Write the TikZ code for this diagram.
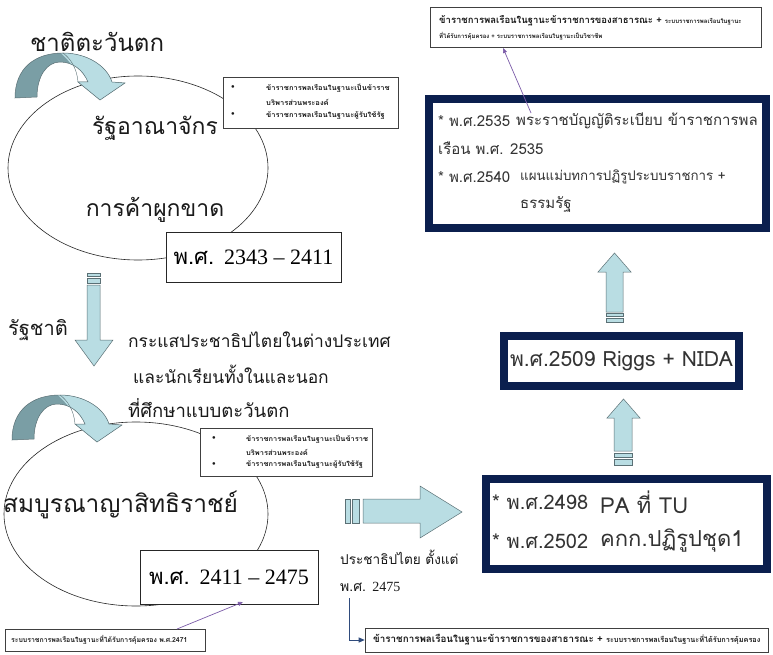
\documentclass[tikz,border=0pt]{standalone}
\usepackage{fontspec}
\setmainfont[Script=Thai]{Loma}
\newfontfamily\lat{Liberation Serif}
\newfontfamily\widethai[Script=Thai,FakeStretch=1.08]{Loma}
\usetikzlibrary{arrows.meta,shapes.geometric}
\definecolor{navy}{HTML}{0B1F4E}
\definecolor{abl}{HTML}{B9DDE3}
\definecolor{adk}{HTML}{7A9EA5}
\definecolor{aline}{HTML}{5B7075}
\definecolor{purp}{HTML}{7B5BA8}
\definecolor{ebl}{HTML}{2F4B7C}
\definecolor{txt}{HTML}{1A1A1A}
\definecolor{gtxt}{HTML}{333333}
\newcommand{\fs}[1]{\fontsize{#1}{#1}\selectfont}
\tikzset{
  lbl/.style={inner sep=0pt, anchor=west, text=txt},
  clbl/.style={inner sep=0pt, anchor=center, text=txt},
  nlbl/.style={inner sep=0pt, anchor=west, text=gtxt},
  oval/.style={draw=black!85, line width=0.6pt, ellipse, inner sep=0pt},
  plainbox/.style={draw=black!85, line width=0.8pt, fill=white, inner sep=0pt},
  tinybox/.style={draw=black!75, line width=0.6pt, fill=white, inner sep=0pt},
  navybox/.style={draw=navy, line width=8pt, fill=white, inner sep=0pt},
  blockarr/.style={fill=abl, draw=aline, line width=0.5pt},
  purparrow/.style={draw=purp, line width=0.7pt, -{Triangle[length=5pt,width=4pt]}},
  elbowarrow/.style={draw=ebl, line width=0.9pt, -{Triangle[length=6pt,width=5pt]}},
  curvarrow/.pic={
    \fill[adk] (0,0) .. controls (0,-30) and (20,-45) .. (48,-45)
       .. controls (72,-45) and (92,-32) .. (97,-16) -- (110,-15) -- (85,2) -- (63,-16) -- (73,-16)
       .. controls (68,-28) and (58,-36) .. (45,-36) .. controls (32,-36) and (22,-22) .. (22,-1) -- cycle;
    \begin{scope}
      \clip (0,0) .. controls (0,-30) and (20,-45) .. (48,-45)
       .. controls (72,-45) and (92,-32) .. (97,-16) -- (110,-15) -- (85,2) -- (63,-16) -- (73,-16)
       .. controls (68,-28) and (58,-36) .. (45,-36) .. controls (32,-36) and (22,-22) .. (22,-1) -- cycle;
      \fill[abl] (40,-50) -- (48,-45) .. controls (72,-45) and (92,-32) .. (97,-16) -- (110,-15) -- (85,2) -- (63,-16)
        .. controls (62,-30) and (52,-40) .. (40,-50) -- cycle;
    \end{scope}
    \draw[aline, line width=0.5pt] (0,0) .. controls (0,-30) and (20,-45) .. (48,-45)
       .. controls (72,-45) and (92,-32) .. (97,-16) -- (110,-15) -- (85,2) -- (63,-16) -- (73,-16)
       .. controls (68,-28) and (58,-36) .. (45,-36) .. controls (32,-36) and (22,-22) .. (22,-1) -- cycle;
    \draw[aline, line width=0.4pt] (48,-45) .. controls (55,-40) and (62,-30) .. (63,-16);
  }
}
\begin{document}
\begin{tikzpicture}[x=1pt,y=-1pt]
\useasboundingbox[fill=white] (0,0) rectangle (773,655);

% ---------- left upper group ----------
\node[oval, minimum width=260pt, minimum height=184pt] (ell1) at (138,168) {};
\pic at (15,98) {curvarrow};
\node[lbl] (west) at (30,42) {\fs{24}ชาติตะวันตก};
\node[tinybox, minimum width=175pt, minimum height=51pt] (bul1) at (310.5,102.5) {};
\node[lbl] (b1a) at (231,88) {\fs{8}•};
\node[lbl] (b1b) at (266,88) {\widethai\fs{7}\bfseries ข้าราชการพลเรือนในฐานะเป็นข้าราช};
\node[lbl] (b1c) at (266,102) {\widethai\fs{7}\bfseries บริพารส่วนพระองค์};
\node[lbl] (b1d) at (231,115) {\fs{8}•};
\node[lbl] (b1e) at (266,115) {\widethai\fs{7}\bfseries ข้าราชการพลเรือนในฐานะผู้รับใช้รัฐ};
\node[clbl] (kingdom) at (155,128) {\fs{23}รัฐอาณาจักร};
\node[clbl] (monop) at (155,210) {\fs{23}การค้าผูกขาด};
\node[plainbox, minimum width=175pt, minimum height=50pt] (p1) at (253.5,257) {\fs{22}พ.ศ. {\lat 2343 – 2411}};

% down arrow
\draw[blockarr] (87,273) rectangle (100,276.5);
\draw[blockarr] (87,278.5) rectangle (100,283);
\draw[blockarr] (87,285) -- (100,285) -- (100,340) -- (113,340) -- (94,366) -- (75,340) -- (87,340) -- cycle;
\node[lbl] (nation) at (8,330) {\fs{20}รัฐชาติ};
\node[lbl] (flow1) at (128,340) {\fs{17.4}กระแสประชาธิปไตยในต่างประเทศ};
\node[lbl] (flow2) at (133,374) {\fs{17.4}และนักเรียนทั้งในและนอก};
\node[lbl] (flow3) at (128,408) {\fs{18.5}ที่ศึกษาแบบตะวันตก};

% ---------- left lower group ----------
\node[oval, minimum width=264pt, minimum height=184pt] (ell2) at (136,514) {};
\pic at (12,440) {curvarrow};
\node[tinybox, minimum width=172pt, minimum height=48pt] (bul2) at (286,452) {};
\node[lbl] (b2a) at (212,439) {\fs{8}•};
\node[lbl] (b2b) at (246,439) {\widethai\fs{6.9}\bfseries ข้าราชการพลเรือนในฐานะเป็นข้าราช};
\node[lbl] (b2c) at (246,452) {\widethai\fs{6.9}\bfseries บริพารส่วนพระองค์};
\node[lbl] (b2d) at (212,465) {\fs{8}•};
\node[lbl] (b2e) at (246,465) {\widethai\fs{6.9}\bfseries ข้าราชการพลเรือนในฐานะผู้รับใช้รัฐ};
\node[lbl] (absol) at (3,505) {\fs{24.5}สมบูรณาญาสิทธิราชย์};
\node[plainbox, minimum width=178pt, minimum height=54pt] (p2) at (229,577) {\fs{22}พ.ศ. {\lat 2411 – 2475}};
\node[tinybox, minimum width=200pt, minimum height=22pt] (bl) at (105,640) {};
\node[lbl] (bltxt) at (11,640) {\fs{6.9}\bfseries ระบบราชการพลเรือนในฐานะที่ได้รับการคุ้มครอง พ.ศ.2471};
\coordinate (pa) at (177,629);
\coordinate (pb) at (243,602);
\draw[purparrow] (pa) -- (pb);

% right arrow
\draw[blockarr] (345,499) rectangle (350,523);
\draw[blockarr] (352.5,499) rectangle (359.5,523);
\draw[blockarr] (363,499) -- (420,499) -- (420,486) -- (462,512) -- (420,538) -- (420,523) -- (363,523) -- cycle;
\node[lbl] (demo) at (340,557) {\fs{13.6}ประชาธิปไตย ตั้งแต่};
\node[lbl] (y2475) at (340,587) {\fs{14}พ.ศ. {\lat 2475}};
\node[tinybox, minimum width=403pt, minimum height=24pt] (br) at (566.5,640) {};
\node[lbl] (brtxt) at (373,640) {\fs{9.8}\bfseries ข้าราชการพลเรือนในฐานะข้าราชการของสาธารณะ + {\fs{7.3}ระบบราชการพลเรือนในฐานะที่ได้รับการคุ้มครอง}};
\coordinate (ec) at (349,598);
\draw[elbowarrow] (ec) |- (br.west);

% ---------- right column ----------
\node[navybox, minimum width=281pt, minimum height=90pt] (pa2498) at (626.5,524) {};
\node[nlbl] (r1a) at (492,502) {\fs{20}* พ.ศ.2498};
\node[nlbl] (r1b) at (600,502) {\fs{22}PA ที่ TU};
\node[nlbl] (r2a) at (492,541) {\fs{20}* พ.ศ.2502};
\node[nlbl] (r2b) at (600,541) {\fs{22}คกก.ปฏิรูปชุด1};

\draw[blockarr] (614,451) -- (614,418) -- (607,418) -- (623.5,399) -- (640,418) -- (632,418) -- (632,451) -- cycle;
\draw[blockarr] (614,453) rectangle (632,457);
\draw[blockarr] (614,459) rectangle (632,465);

\node[navybox, minimum width=235pt, minimum height=50pt, text=gtxt] (riggs) at (621.5,361) {\fs{21}พ.ศ.2509 Riggs + NIDA};

\draw[blockarr] (606,312) -- (606,272) -- (598,272) -- (614.5,253) -- (631,272) -- (623,272) -- (623,312) -- cycle;
\draw[blockarr] (606,313.5) rectangle (623,316.5);
\draw[blockarr] (606,318.5) rectangle (623,322);

\node[navybox, minimum width=337pt, minimum height=129pt] (act) at (597.5,163.5) {};
\node[nlbl] (a1a) at (438,121) {\fs{15}* พ.ศ.2535};
\node[nlbl] (a1b) at (516,121) {\fs{15}พระราชบัญญัติระเบียบ ข้าราชการพล};
\node[nlbl] (a2) at (438,148) {\fs{15}เรือน พ.ศ. 2535};
\node[nlbl] (a3a) at (438,177) {\fs{15}* พ.ศ.2540};
\node[nlbl] (a3b) at (520,177) {\fs{13.3}แผนแม่บทการปฏิรูประบบราชการ +};
\node[nlbl] (a4) at (520,204) {\fs{15}ธรรมรัฐ};

\node[tinybox, minimum width=331pt, minimum height=40pt] (top) at (595.5,27) {};
\node[lbl] (toptxt1) at (439,21) {\fs{9.5}\bfseries ข้าราชการพลเรือนในฐานะข้าราชการของสาธารณะ + {\fs{6}ระบบราชการพลเรือนในฐานะ}};
\node[lbl] (toptxt2) at (439,36) {\fs{6}\bfseries ที่ได้รับการคุ้มครอง + ระบบราชการพลเรือนในฐานะเป็นวิชาชีพ};
\coordinate (pc) at (531,113);
\coordinate (pd) at (503,48);
\draw[purparrow] (pc) -- (pd);
\end{tikzpicture}
\end{document}
